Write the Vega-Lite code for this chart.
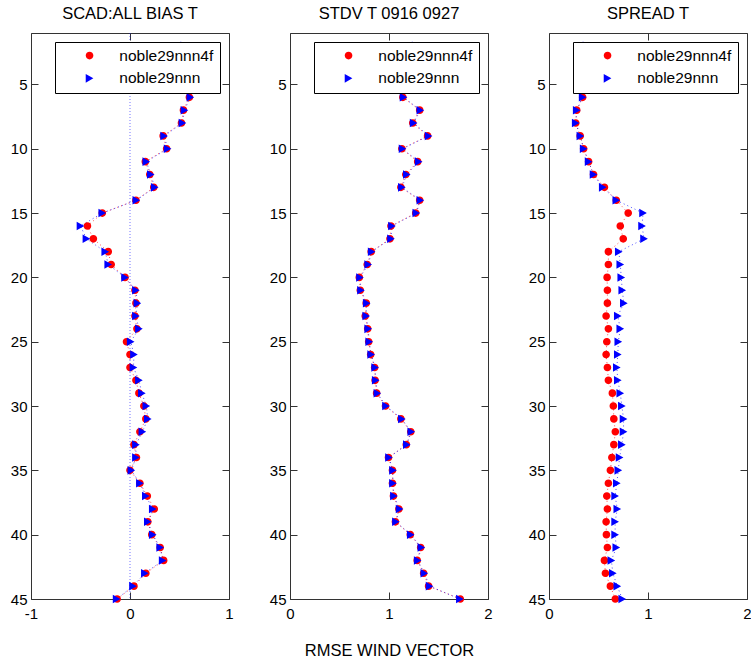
{
  "$schema": "https://vega.github.io/schema/vega-lite/v6.json",
  "autosize": {"type": "pad"},
  "padding": {"left": 9, "top": 5, "right": 0, "bottom": 0},
  "background": "white",
  "data": {"values": [
    {"panel":"bias","series":"noble29nnn4f","level":2,"value":0.55},
    {"panel":"bias","series":"noble29nnn4f","level":3,"value":0.57},
    {"panel":"bias","series":"noble29nnn4f","level":4,"value":0.6},
    {"panel":"bias","series":"noble29nnn4f","level":5,"value":0.62},
    {"panel":"bias","series":"noble29nnn4f","level":6,"value":0.6},
    {"panel":"bias","series":"noble29nnn4f","level":7,"value":0.54},
    {"panel":"bias","series":"noble29nnn4f","level":8,"value":0.52},
    {"panel":"bias","series":"noble29nnn4f","level":9,"value":0.335},
    {"panel":"bias","series":"noble29nnn4f","level":10,"value":0.37},
    {"panel":"bias","series":"noble29nnn4f","level":11,"value":0.155},
    {"panel":"bias","series":"noble29nnn4f","level":12,"value":0.2},
    {"panel":"bias","series":"noble29nnn4f","level":13,"value":0.24},
    {"panel":"bias","series":"noble29nnn4f","level":14,"value":0.06},
    {"panel":"bias","series":"noble29nnn4f","level":15,"value":-0.28},
    {"panel":"bias","series":"noble29nnn4f","level":16,"value":-0.43},
    {"panel":"bias","series":"noble29nnn4f","level":17,"value":-0.37},
    {"panel":"bias","series":"noble29nnn4f","level":18,"value":-0.22},
    {"panel":"bias","series":"noble29nnn4f","level":19,"value":-0.19},
    {"panel":"bias","series":"noble29nnn4f","level":20,"value":-0.05},
    {"panel":"bias","series":"noble29nnn4f","level":21,"value":0.05},
    {"panel":"bias","series":"noble29nnn4f","level":22,"value":0.06},
    {"panel":"bias","series":"noble29nnn4f","level":23,"value":0.05},
    {"panel":"bias","series":"noble29nnn4f","level":24,"value":0.07},
    {"panel":"bias","series":"noble29nnn4f","level":25,"value":-0.035},
    {"panel":"bias","series":"noble29nnn4f","level":26,"value":0},
    {"panel":"bias","series":"noble29nnn4f","level":27,"value":0},
    {"panel":"bias","series":"noble29nnn4f","level":28,"value":0.06},
    {"panel":"bias","series":"noble29nnn4f","level":29,"value":0.09},
    {"panel":"bias","series":"noble29nnn4f","level":30,"value":0.14},
    {"panel":"bias","series":"noble29nnn4f","level":31,"value":0.16},
    {"panel":"bias","series":"noble29nnn4f","level":32,"value":0.1},
    {"panel":"bias","series":"noble29nnn4f","level":33,"value":0.04},
    {"panel":"bias","series":"noble29nnn4f","level":34,"value":0.065},
    {"panel":"bias","series":"noble29nnn4f","level":35,"value":0},
    {"panel":"bias","series":"noble29nnn4f","level":36,"value":0.1},
    {"panel":"bias","series":"noble29nnn4f","level":37,"value":0.175},
    {"panel":"bias","series":"noble29nnn4f","level":38,"value":0.245},
    {"panel":"bias","series":"noble29nnn4f","level":39,"value":0.18},
    {"panel":"bias","series":"noble29nnn4f","level":40,"value":0.22},
    {"panel":"bias","series":"noble29nnn4f","level":41,"value":0.305},
    {"panel":"bias","series":"noble29nnn4f","level":42,"value":0.34},
    {"panel":"bias","series":"noble29nnn4f","level":43,"value":0.16},
    {"panel":"bias","series":"noble29nnn4f","level":44,"value":0.04},
    {"panel":"bias","series":"noble29nnn4f","level":45,"value":-0.13},
    {"panel":"bias","series":"noble29nnn","level":2,"value":0.55},
    {"panel":"bias","series":"noble29nnn","level":3,"value":0.57},
    {"panel":"bias","series":"noble29nnn","level":4,"value":0.6},
    {"panel":"bias","series":"noble29nnn","level":5,"value":0.62},
    {"panel":"bias","series":"noble29nnn","level":6,"value":0.61},
    {"panel":"bias","series":"noble29nnn","level":7,"value":0.55},
    {"panel":"bias","series":"noble29nnn","level":8,"value":0.53},
    {"panel":"bias","series":"noble29nnn","level":9,"value":0.345},
    {"panel":"bias","series":"noble29nnn","level":10,"value":0.38},
    {"panel":"bias","series":"noble29nnn","level":11,"value":0.165},
    {"panel":"bias","series":"noble29nnn","level":12,"value":0.21},
    {"panel":"bias","series":"noble29nnn","level":13,"value":0.25},
    {"panel":"bias","series":"noble29nnn","level":14,"value":0.064},
    {"panel":"bias","series":"noble29nnn","level":15,"value":-0.28},
    {"panel":"bias","series":"noble29nnn","level":16,"value":-0.5},
    {"panel":"bias","series":"noble29nnn","level":17,"value":-0.44},
    {"panel":"bias","series":"noble29nnn","level":18,"value":-0.25},
    {"panel":"bias","series":"noble29nnn","level":19,"value":-0.22},
    {"panel":"bias","series":"noble29nnn","level":20,"value":-0.05},
    {"panel":"bias","series":"noble29nnn","level":21,"value":0.06},
    {"panel":"bias","series":"noble29nnn","level":22,"value":0.075},
    {"panel":"bias","series":"noble29nnn","level":23,"value":0.06},
    {"panel":"bias","series":"noble29nnn","level":24,"value":0.09},
    {"panel":"bias","series":"noble29nnn","level":25,"value":0.007},
    {"panel":"bias","series":"noble29nnn","level":26,"value":0.04},
    {"panel":"bias","series":"noble29nnn","level":27,"value":0.035},
    {"panel":"bias","series":"noble29nnn","level":28,"value":0.09},
    {"panel":"bias","series":"noble29nnn","level":29,"value":0.12},
    {"panel":"bias","series":"noble29nnn","level":30,"value":0.165},
    {"panel":"bias","series":"noble29nnn","level":31,"value":0.18},
    {"panel":"bias","series":"noble29nnn","level":32,"value":0.125},
    {"panel":"bias","series":"noble29nnn","level":33,"value":0.06},
    {"panel":"bias","series":"noble29nnn","level":34,"value":0.06},
    {"panel":"bias","series":"noble29nnn","level":35,"value":0.014},
    {"panel":"bias","series":"noble29nnn","level":36,"value":0.1},
    {"panel":"bias","series":"noble29nnn","level":37,"value":0.16},
    {"panel":"bias","series":"noble29nnn","level":38,"value":0.23},
    {"panel":"bias","series":"noble29nnn","level":39,"value":0.18},
    {"panel":"bias","series":"noble29nnn","level":40,"value":0.23},
    {"panel":"bias","series":"noble29nnn","level":41,"value":0.305},
    {"panel":"bias","series":"noble29nnn","level":42,"value":0.33},
    {"panel":"bias","series":"noble29nnn","level":43,"value":0.15},
    {"panel":"bias","series":"noble29nnn","level":44,"value":0.03},
    {"panel":"bias","series":"noble29nnn","level":45,"value":-0.135},
    {"panel":"stdv","series":"noble29nnn4f","level":2,"value":1.27},
    {"panel":"stdv","series":"noble29nnn4f","level":3,"value":1.25},
    {"panel":"stdv","series":"noble29nnn4f","level":4,"value":1.21},
    {"panel":"stdv","series":"noble29nnn4f","level":5,"value":1.17},
    {"panel":"stdv","series":"noble29nnn4f","level":6,"value":1.14},
    {"panel":"stdv","series":"noble29nnn4f","level":7,"value":1.31},
    {"panel":"stdv","series":"noble29nnn4f","level":8,"value":1.24},
    {"panel":"stdv","series":"noble29nnn4f","level":9,"value":1.39},
    {"panel":"stdv","series":"noble29nnn4f","level":10,"value":1.13},
    {"panel":"stdv","series":"noble29nnn4f","level":11,"value":1.29},
    {"panel":"stdv","series":"noble29nnn4f","level":12,"value":1.17},
    {"panel":"stdv","series":"noble29nnn4f","level":13,"value":1.12},
    {"panel":"stdv","series":"noble29nnn4f","level":14,"value":1.31},
    {"panel":"stdv","series":"noble29nnn4f","level":15,"value":1.27},
    {"panel":"stdv","series":"noble29nnn4f","level":16,"value":1.02},
    {"panel":"stdv","series":"noble29nnn4f","level":17,"value":1.01},
    {"panel":"stdv","series":"noble29nnn4f","level":18,"value":0.82},
    {"panel":"stdv","series":"noble29nnn4f","level":19,"value":0.78},
    {"panel":"stdv","series":"noble29nnn4f","level":20,"value":0.7},
    {"panel":"stdv","series":"noble29nnn4f","level":21,"value":0.71},
    {"panel":"stdv","series":"noble29nnn4f","level":22,"value":0.77},
    {"panel":"stdv","series":"noble29nnn4f","level":23,"value":0.76},
    {"panel":"stdv","series":"noble29nnn4f","level":24,"value":0.785},
    {"panel":"stdv","series":"noble29nnn4f","level":25,"value":0.795},
    {"panel":"stdv","series":"noble29nnn4f","level":26,"value":0.815},
    {"panel":"stdv","series":"noble29nnn4f","level":27,"value":0.855},
    {"panel":"stdv","series":"noble29nnn4f","level":28,"value":0.86},
    {"panel":"stdv","series":"noble29nnn4f","level":29,"value":0.875},
    {"panel":"stdv","series":"noble29nnn4f","level":30,"value":0.965},
    {"panel":"stdv","series":"noble29nnn4f","level":31,"value":1.12},
    {"panel":"stdv","series":"noble29nnn4f","level":32,"value":1.22},
    {"panel":"stdv","series":"noble29nnn4f","level":33,"value":1.175},
    {"panel":"stdv","series":"noble29nnn4f","level":34,"value":0.995},
    {"panel":"stdv","series":"noble29nnn4f","level":35,"value":1.035},
    {"panel":"stdv","series":"noble29nnn4f","level":36,"value":1.035},
    {"panel":"stdv","series":"noble29nnn4f","level":37,"value":1.045},
    {"panel":"stdv","series":"noble29nnn4f","level":38,"value":1.1},
    {"panel":"stdv","series":"noble29nnn4f","level":39,"value":1.065},
    {"panel":"stdv","series":"noble29nnn4f","level":40,"value":1.215},
    {"panel":"stdv","series":"noble29nnn4f","level":41,"value":1.32},
    {"panel":"stdv","series":"noble29nnn4f","level":42,"value":1.285},
    {"panel":"stdv","series":"noble29nnn4f","level":43,"value":1.35},
    {"panel":"stdv","series":"noble29nnn4f","level":44,"value":1.4},
    {"panel":"stdv","series":"noble29nnn4f","level":45,"value":1.72},
    {"panel":"stdv","series":"noble29nnn","level":2,"value":1.27},
    {"panel":"stdv","series":"noble29nnn","level":3,"value":1.25},
    {"panel":"stdv","series":"noble29nnn","level":4,"value":1.21},
    {"panel":"stdv","series":"noble29nnn","level":5,"value":1.17},
    {"panel":"stdv","series":"noble29nnn","level":6,"value":1.147},
    {"panel":"stdv","series":"noble29nnn","level":7,"value":1.317},
    {"panel":"stdv","series":"noble29nnn","level":8,"value":1.249},
    {"panel":"stdv","series":"noble29nnn","level":9,"value":1.4},
    {"panel":"stdv","series":"noble29nnn","level":10,"value":1.137},
    {"panel":"stdv","series":"noble29nnn","level":11,"value":1.3},
    {"panel":"stdv","series":"noble29nnn","level":12,"value":1.18},
    {"panel":"stdv","series":"noble29nnn","level":13,"value":1.13},
    {"panel":"stdv","series":"noble29nnn","level":14,"value":1.317},
    {"panel":"stdv","series":"noble29nnn","level":15,"value":1.276},
    {"panel":"stdv","series":"noble29nnn","level":16,"value":1.03},
    {"panel":"stdv","series":"noble29nnn","level":17,"value":1.02},
    {"panel":"stdv","series":"noble29nnn","level":18,"value":0.825},
    {"panel":"stdv","series":"noble29nnn","level":19,"value":0.79},
    {"panel":"stdv","series":"noble29nnn","level":20,"value":0.707},
    {"panel":"stdv","series":"noble29nnn","level":21,"value":0.717},
    {"panel":"stdv","series":"noble29nnn","level":22,"value":0.775},
    {"panel":"stdv","series":"noble29nnn","level":23,"value":0.77},
    {"panel":"stdv","series":"noble29nnn","level":24,"value":0.79},
    {"panel":"stdv","series":"noble29nnn","level":25,"value":0.8},
    {"panel":"stdv","series":"noble29nnn","level":26,"value":0.82},
    {"panel":"stdv","series":"noble29nnn","level":27,"value":0.86},
    {"panel":"stdv","series":"noble29nnn","level":28,"value":0.866},
    {"panel":"stdv","series":"noble29nnn","level":29,"value":0.883},
    {"panel":"stdv","series":"noble29nnn","level":30,"value":0.97},
    {"panel":"stdv","series":"noble29nnn","level":31,"value":1.13},
    {"panel":"stdv","series":"noble29nnn","level":32,"value":1.225},
    {"panel":"stdv","series":"noble29nnn","level":33,"value":1.18},
    {"panel":"stdv","series":"noble29nnn","level":34,"value":1.0},
    {"panel":"stdv","series":"noble29nnn","level":35,"value":1.04},
    {"panel":"stdv","series":"noble29nnn","level":36,"value":1.04},
    {"panel":"stdv","series":"noble29nnn","level":37,"value":1.05},
    {"panel":"stdv","series":"noble29nnn","level":38,"value":1.107},
    {"panel":"stdv","series":"noble29nnn","level":39,"value":1.07},
    {"panel":"stdv","series":"noble29nnn","level":40,"value":1.22},
    {"panel":"stdv","series":"noble29nnn","level":41,"value":1.327},
    {"panel":"stdv","series":"noble29nnn","level":42,"value":1.29},
    {"panel":"stdv","series":"noble29nnn","level":43,"value":1.357},
    {"panel":"stdv","series":"noble29nnn","level":44,"value":1.41},
    {"panel":"stdv","series":"noble29nnn","level":45,"value":1.716},
    {"panel":"spread","series":"noble29nnn4f","level":2,"value":0.38},
    {"panel":"spread","series":"noble29nnn4f","level":3,"value":0.38},
    {"panel":"spread","series":"noble29nnn4f","level":4,"value":0.37},
    {"panel":"spread","series":"noble29nnn4f","level":5,"value":0.36},
    {"panel":"spread","series":"noble29nnn4f","level":6,"value":0.34},
    {"panel":"spread","series":"noble29nnn4f","level":7,"value":0.28},
    {"panel":"spread","series":"noble29nnn4f","level":8,"value":0.27},
    {"panel":"spread","series":"noble29nnn4f","level":9,"value":0.315},
    {"panel":"spread","series":"noble29nnn4f","level":10,"value":0.35},
    {"panel":"spread","series":"noble29nnn4f","level":11,"value":0.4},
    {"panel":"spread","series":"noble29nnn4f","level":12,"value":0.45},
    {"panel":"spread","series":"noble29nnn4f","level":13,"value":0.56},
    {"panel":"spread","series":"noble29nnn4f","level":14,"value":0.68},
    {"panel":"spread","series":"noble29nnn4f","level":15,"value":0.8},
    {"panel":"spread","series":"noble29nnn4f","level":16,"value":0.72},
    {"panel":"spread","series":"noble29nnn4f","level":17,"value":0.75},
    {"panel":"spread","series":"noble29nnn4f","level":18,"value":0.6},
    {"panel":"spread","series":"noble29nnn4f","level":19,"value":0.6},
    {"panel":"spread","series":"noble29nnn4f","level":20,"value":0.587},
    {"panel":"spread","series":"noble29nnn4f","level":21,"value":0.59},
    {"panel":"spread","series":"noble29nnn4f","level":22,"value":0.59},
    {"panel":"spread","series":"noble29nnn4f","level":23,"value":0.577},
    {"panel":"spread","series":"noble29nnn4f","level":24,"value":0.6},
    {"panel":"spread","series":"noble29nnn4f","level":25,"value":0.584},
    {"panel":"spread","series":"noble29nnn4f","level":26,"value":0.577},
    {"panel":"spread","series":"noble29nnn4f","level":27,"value":0.59},
    {"panel":"spread","series":"noble29nnn4f","level":28,"value":0.6},
    {"panel":"spread","series":"noble29nnn4f","level":29,"value":0.64},
    {"panel":"spread","series":"noble29nnn4f","level":30,"value":0.65},
    {"panel":"spread","series":"noble29nnn4f","level":31,"value":0.655},
    {"panel":"spread","series":"noble29nnn4f","level":32,"value":0.67},
    {"panel":"spread","series":"noble29nnn4f","level":33,"value":0.655},
    {"panel":"spread","series":"noble29nnn4f","level":34,"value":0.635},
    {"panel":"spread","series":"noble29nnn4f","level":35,"value":0.62},
    {"panel":"spread","series":"noble29nnn4f","level":36,"value":0.6},
    {"panel":"spread","series":"noble29nnn4f","level":37,"value":0.584},
    {"panel":"spread","series":"noble29nnn4f","level":38,"value":0.59},
    {"panel":"spread","series":"noble29nnn4f","level":39,"value":0.577},
    {"panel":"spread","series":"noble29nnn4f","level":40,"value":0.58},
    {"panel":"spread","series":"noble29nnn4f","level":41,"value":0.59},
    {"panel":"spread","series":"noble29nnn4f","level":42,"value":0.56},
    {"panel":"spread","series":"noble29nnn4f","level":43,"value":0.57},
    {"panel":"spread","series":"noble29nnn4f","level":44,"value":0.62},
    {"panel":"spread","series":"noble29nnn4f","level":45,"value":0.67},
    {"panel":"spread","series":"noble29nnn","level":2,"value":0.38},
    {"panel":"spread","series":"noble29nnn","level":3,"value":0.38},
    {"panel":"spread","series":"noble29nnn","level":4,"value":0.37},
    {"panel":"spread","series":"noble29nnn","level":5,"value":0.36},
    {"panel":"spread","series":"noble29nnn","level":6,"value":0.34},
    {"panel":"spread","series":"noble29nnn","level":7,"value":0.28},
    {"panel":"spread","series":"noble29nnn","level":8,"value":0.27},
    {"panel":"spread","series":"noble29nnn","level":9,"value":0.317},
    {"panel":"spread","series":"noble29nnn","level":10,"value":0.35},
    {"panel":"spread","series":"noble29nnn","level":11,"value":0.4},
    {"panel":"spread","series":"noble29nnn","level":12,"value":0.45},
    {"panel":"spread","series":"noble29nnn","level":13,"value":0.543},
    {"panel":"spread","series":"noble29nnn","level":14,"value":0.68},
    {"panel":"spread","series":"noble29nnn","level":15,"value":0.95},
    {"panel":"spread","series":"noble29nnn","level":16,"value":0.94},
    {"panel":"spread","series":"noble29nnn","level":17,"value":0.96},
    {"panel":"spread","series":"noble29nnn","level":18,"value":0.705},
    {"panel":"spread","series":"noble29nnn","level":19,"value":0.72},
    {"panel":"spread","series":"noble29nnn","level":20,"value":0.73},
    {"panel":"spread","series":"noble29nnn","level":21,"value":0.74},
    {"panel":"spread","series":"noble29nnn","level":22,"value":0.756},
    {"panel":"spread","series":"noble29nnn","level":23,"value":0.695},
    {"panel":"spread","series":"noble29nnn","level":24,"value":0.72},
    {"panel":"spread","series":"noble29nnn","level":25,"value":0.7},
    {"panel":"spread","series":"noble29nnn","level":26,"value":0.695},
    {"panel":"spread","series":"noble29nnn","level":27,"value":0.685},
    {"panel":"spread","series":"noble29nnn","level":28,"value":0.695},
    {"panel":"spread","series":"noble29nnn","level":29,"value":0.72},
    {"panel":"spread","series":"noble29nnn","level":30,"value":0.736},
    {"panel":"spread","series":"noble29nnn","level":31,"value":0.753},
    {"panel":"spread","series":"noble29nnn","level":32,"value":0.753},
    {"panel":"spread","series":"noble29nnn","level":33,"value":0.736},
    {"panel":"spread","series":"noble29nnn","level":34,"value":0.713},
    {"panel":"spread","series":"noble29nnn","level":35,"value":0.7},
    {"panel":"spread","series":"noble29nnn","level":36,"value":0.685},
    {"panel":"spread","series":"noble29nnn","level":37,"value":0.668},
    {"panel":"spread","series":"noble29nnn","level":38,"value":0.69},
    {"panel":"spread","series":"noble29nnn","level":39,"value":0.668},
    {"panel":"spread","series":"noble29nnn","level":40,"value":0.668},
    {"panel":"spread","series":"noble29nnn","level":41,"value":0.68},
    {"panel":"spread","series":"noble29nnn","level":42,"value":0.63},
    {"panel":"spread","series":"noble29nnn","level":43,"value":0.645},
    {"panel":"spread","series":"noble29nnn","level":44,"value":0.69},
    {"panel":"spread","series":"noble29nnn","level":45,"value":0.74}
  ]},
  "spacing": 61,
  "bounds": "flush",
  "resolve": {
    "scale": {"color": "independent", "shape": "independent"},
    "legend": {"color": "independent", "shape": "independent"}
  },
  "hconcat": [
    {
      "width": 198, "height": 566,
      "title": "SCAD:ALL BIAS T",
      "layer": [
        {
          "data": {"values": [{"zero": 0}]},
          "mark": {"type": "rule", "color": "#0000ff", "strokeDash": [1, 2], "strokeWidth": 1, "opacity": 0.55},
          "encoding": {"x": {"field": "zero", "type": "quantitative", "scale": {"domain": [-1, 1], "nice": false, "zero": false}, "axis": null}}
        },
        {
          "transform": [{"filter": "datum.panel === 'bias' && datum.series === 'noble29nnn4f'"}],
          "mark": {"type": "line", "color": "#ff0000", "strokeDash": [1, 3], "strokeWidth": 1, "opacity": 0.7},
          "encoding": {
            "x": {"field": "value", "type": "quantitative", "scale": {"domain": [-1, 1], "nice": false, "zero": false}, "axis": {"orient": "bottom", "values": [-1, 0, 1], "labelExpr": "datum.value < -0.5 ? '-1' : (datum.value > 0.5 ? '1' : '0')", "title": null}},
            "y": {"field": "level", "type": "quantitative", "scale": {"domain": [1, 45], "reverse": true, "nice": false, "zero": false}, "axis": {"orient": "left", "values": [5, 10, 15, 20, 25, 30, 35, 40, 45], "title": null}},
            "order": {"field": "level", "type": "quantitative"}
          }
        },
        {
          "transform": [{"filter": "datum.panel === 'bias' && datum.series === 'noble29nnn'"}],
          "mark": {"type": "line", "color": "#0000ff", "strokeDash": [1, 3], "strokeWidth": 1, "opacity": 0.7},
          "encoding": {
            "x": {"field": "value", "type": "quantitative", "scale": {"domain": [-1, 1], "nice": false, "zero": false}, "axis": null},
            "y": {"field": "level", "type": "quantitative", "scale": {"domain": [1, 45], "reverse": true, "nice": false, "zero": false}, "axis": null},
            "order": {"field": "level", "type": "quantitative"}
          }
        },
        {
          "transform": [{"filter": "datum.panel === 'bias'"}],
          "mark": {"type": "point", "filled": true, "size": 81, "opacity": 1},
          "encoding": {
            "x": {"field": "value", "type": "quantitative", "scale": {"domain": [-1, 1], "nice": false, "zero": false}, "axis": {"orient": "top", "values": [-1, 0, 1], "labels": false, "title": null}},
            "y": {"field": "level", "type": "quantitative", "scale": {"domain": [1, 45], "reverse": true, "nice": false, "zero": false}, "axis": {"orient": "right", "values": [5, 10, 15, 20, 25, 30, 35, 40, 45], "labels": false, "title": null}},
            "color": {"field": "series", "type": "nominal", "scale": {"domain": ["noble29nnn4f", "noble29nnn"], "range": ["#ff0000", "#0000ff"]}, "legend": {"title": null, "orient": "top-right", "encode": {"symbols": {"update": {"stroke": {"condition": {"test": "datum.value === 'noble29nnn4f'", "value": "#ff0000"}, "value": "#0000ff"}, "strokeWidth": {"value": 1}, "strokeDash": {"value": [1, 2]}, "strokeOpacity": {"value": 0.8}}}}}},
            "shape": {"field": "series", "type": "nominal", "scale": {"domain": ["noble29nnn4f", "noble29nnn"], "range": ["M-5.55,0H5.55M0.85,0A0.85,0.85,0,1,1,-0.85,0A0.85,0.85,0,1,1,0.85,0Z", "M-5.55,0H5.55M-0.85,-0.95L0.85,0L-0.85,0.95Z"]}, "legend": {"title": null, "orient": "top-right", "encode": {"symbols": {"update": {"stroke": {"condition": {"test": "datum.value === 'noble29nnn4f'", "value": "#ff0000"}, "value": "#0000ff"}, "strokeWidth": {"value": 1}, "strokeDash": {"value": [1, 2]}, "strokeOpacity": {"value": 0.8}}}}}}
          }
        }
      ],
      "resolve": {"axis": {"x": "independent", "y": "independent"}}
    },
    {
      "width": 198, "height": 566,
      "title": "STDV T 0916 0927",
      "layer": [
        {
          "transform": [{"filter": "datum.panel === 'stdv' && datum.series === 'noble29nnn4f'"}],
          "mark": {"type": "line", "color": "#ff0000", "strokeDash": [1, 3], "strokeWidth": 1, "opacity": 0.7},
          "encoding": {
            "x": {"field": "value", "type": "quantitative", "scale": {"domain": [0, 2], "nice": false, "zero": false}, "axis": {"orient": "bottom", "values": [0, 1, 2], "labelExpr": "datum.value < 0.5 ? '0' : (datum.value > 1.5 ? '2' : '1')", "title": "RMSE WIND VECTOR"}},
            "y": {"field": "level", "type": "quantitative", "scale": {"domain": [1, 45], "reverse": true, "nice": false, "zero": false}, "axis": {"orient": "left", "values": [5, 10, 15, 20, 25, 30, 35, 40, 45], "title": null}},
            "order": {"field": "level", "type": "quantitative"}
          }
        },
        {
          "transform": [{"filter": "datum.panel === 'stdv' && datum.series === 'noble29nnn'"}],
          "mark": {"type": "line", "color": "#0000ff", "strokeDash": [1, 3], "strokeWidth": 1, "opacity": 0.7},
          "encoding": {
            "x": {"field": "value", "type": "quantitative", "scale": {"domain": [0, 2], "nice": false, "zero": false}, "axis": null},
            "y": {"field": "level", "type": "quantitative", "scale": {"domain": [1, 45], "reverse": true, "nice": false, "zero": false}, "axis": null},
            "order": {"field": "level", "type": "quantitative"}
          }
        },
        {
          "transform": [{"filter": "datum.panel === 'stdv'"}],
          "mark": {"type": "point", "filled": true, "size": 81, "opacity": 1},
          "encoding": {
            "x": {"field": "value", "type": "quantitative", "scale": {"domain": [0, 2], "nice": false, "zero": false}, "axis": {"orient": "top", "values": [0, 1, 2], "labels": false, "title": null}},
            "y": {"field": "level", "type": "quantitative", "scale": {"domain": [1, 45], "reverse": true, "nice": false, "zero": false}, "axis": {"orient": "right", "values": [5, 10, 15, 20, 25, 30, 35, 40, 45], "labels": false, "title": null}},
            "color": {"field": "series", "type": "nominal", "scale": {"domain": ["noble29nnn4f", "noble29nnn"], "range": ["#ff0000", "#0000ff"]}, "legend": {"title": null, "orient": "top-right", "encode": {"symbols": {"update": {"stroke": {"condition": {"test": "datum.value === 'noble29nnn4f'", "value": "#ff0000"}, "value": "#0000ff"}, "strokeWidth": {"value": 1}, "strokeDash": {"value": [1, 2]}, "strokeOpacity": {"value": 0.8}}}}}},
            "shape": {"field": "series", "type": "nominal", "scale": {"domain": ["noble29nnn4f", "noble29nnn"], "range": ["M-5.55,0H5.55M0.85,0A0.85,0.85,0,1,1,-0.85,0A0.85,0.85,0,1,1,0.85,0Z", "M-5.55,0H5.55M-0.85,-0.95L0.85,0L-0.85,0.95Z"]}, "legend": {"title": null, "orient": "top-right", "encode": {"symbols": {"update": {"stroke": {"condition": {"test": "datum.value === 'noble29nnn4f'", "value": "#ff0000"}, "value": "#0000ff"}, "strokeWidth": {"value": 1}, "strokeDash": {"value": [1, 2]}, "strokeOpacity": {"value": 0.8}}}}}}
          }
        }
      ],
      "resolve": {"axis": {"x": "independent", "y": "independent"}}
    },
    {
      "width": 198, "height": 566,
      "title": "SPREAD T",
      "layer": [
        {
          "transform": [{"filter": "datum.panel === 'spread' && datum.series === 'noble29nnn4f'"}],
          "mark": {"type": "line", "color": "#ff0000", "strokeDash": [1, 3], "strokeWidth": 1, "opacity": 0.7},
          "encoding": {
            "x": {"field": "value", "type": "quantitative", "scale": {"domain": [0, 2], "nice": false, "zero": false}, "axis": {"orient": "bottom", "values": [0, 1, 2], "labelExpr": "datum.value < 0.5 ? '0' : (datum.value > 1.5 ? '2' : '1')", "title": null}},
            "y": {"field": "level", "type": "quantitative", "scale": {"domain": [1, 45], "reverse": true, "nice": false, "zero": false}, "axis": {"orient": "left", "values": [5, 10, 15, 20, 25, 30, 35, 40, 45], "title": null}},
            "order": {"field": "level", "type": "quantitative"}
          }
        },
        {
          "transform": [{"filter": "datum.panel === 'spread' && datum.series === 'noble29nnn'"}],
          "mark": {"type": "line", "color": "#0000ff", "strokeDash": [1, 3], "strokeWidth": 1, "opacity": 0.7},
          "encoding": {
            "x": {"field": "value", "type": "quantitative", "scale": {"domain": [0, 2], "nice": false, "zero": false}, "axis": null},
            "y": {"field": "level", "type": "quantitative", "scale": {"domain": [1, 45], "reverse": true, "nice": false, "zero": false}, "axis": null},
            "order": {"field": "level", "type": "quantitative"}
          }
        },
        {
          "transform": [{"filter": "datum.panel === 'spread'"}],
          "mark": {"type": "point", "filled": true, "size": 81, "opacity": 1},
          "encoding": {
            "x": {"field": "value", "type": "quantitative", "scale": {"domain": [0, 2], "nice": false, "zero": false}, "axis": {"orient": "top", "values": [0, 1, 2], "labels": false, "title": null}},
            "y": {"field": "level", "type": "quantitative", "scale": {"domain": [1, 45], "reverse": true, "nice": false, "zero": false}, "axis": {"orient": "right", "values": [5, 10, 15, 20, 25, 30, 35, 40, 45], "labels": false, "title": null}},
            "color": {"field": "series", "type": "nominal", "scale": {"domain": ["noble29nnn4f", "noble29nnn"], "range": ["#ff0000", "#0000ff"]}, "legend": {"title": null, "orient": "top-right", "encode": {"symbols": {"update": {"stroke": {"condition": {"test": "datum.value === 'noble29nnn4f'", "value": "#ff0000"}, "value": "#0000ff"}, "strokeWidth": {"value": 1}, "strokeDash": {"value": [1, 2]}, "strokeOpacity": {"value": 0.8}}}}}},
            "shape": {"field": "series", "type": "nominal", "scale": {"domain": ["noble29nnn4f", "noble29nnn"], "range": ["M-5.55,0H5.55M0.85,0A0.85,0.85,0,1,1,-0.85,0A0.85,0.85,0,1,1,0.85,0Z", "M-5.55,0H5.55M-0.85,-0.95L0.85,0L-0.85,0.95Z"]}, "legend": {"title": null, "orient": "top-right", "encode": {"symbols": {"update": {"stroke": {"condition": {"test": "datum.value === 'noble29nnn4f'", "value": "#ff0000"}, "value": "#0000ff"}, "strokeWidth": {"value": 1}, "strokeDash": {"value": [1, 2]}, "strokeOpacity": {"value": 0.8}}}}}}
          }
        }
      ],
      "resolve": {"axis": {"x": "independent", "y": "independent"}}
    }
  ],
  "config": {
    "font": "Liberation Sans",
    "view": {"stroke": "#333333", "strokeWidth": 1},
    "axis": {"domain": false, "grid": false, "ticks": true, "tickColor": "#333333", "tickSize": -7, "labelFont": "Liberation Sans", "labelFontSize": 15, "labelColor": "#000000", "labelFlush": false, "labelOverlap": false, "titleFont": "Liberation Sans", "titleFontSize": 16.5, "titleFontWeight": "normal", "titleColor": "#000000"},
    "axisLeft": {"labelPadding": 11},
    "axisBottom": {"labelPadding": 14, "titlePadding": 21},
    "title": {"font": "Liberation Sans", "fontSize": 16.5, "fontWeight": "normal", "color": "#000000", "offset": 10, "baseline": "alphabetic", "anchor": "middle"},
    "legend": {
      "orient": "top-right", "offset": 9, "fillColor": "white", "strokeColor": "#000000", "padding": 5.8,
      "symbolSize": 81, "labelFont": "Liberation Sans", "labelFontSize": 15.5, "labelColor": "#000000", "labelLimit": 300,
      "rowPadding": 5.8, "symbolOffset": 21, "labelOffset": 22,
      "symbolStrokeWidth": 1, "symbolDash": [1, 2]
    }
  }
}
